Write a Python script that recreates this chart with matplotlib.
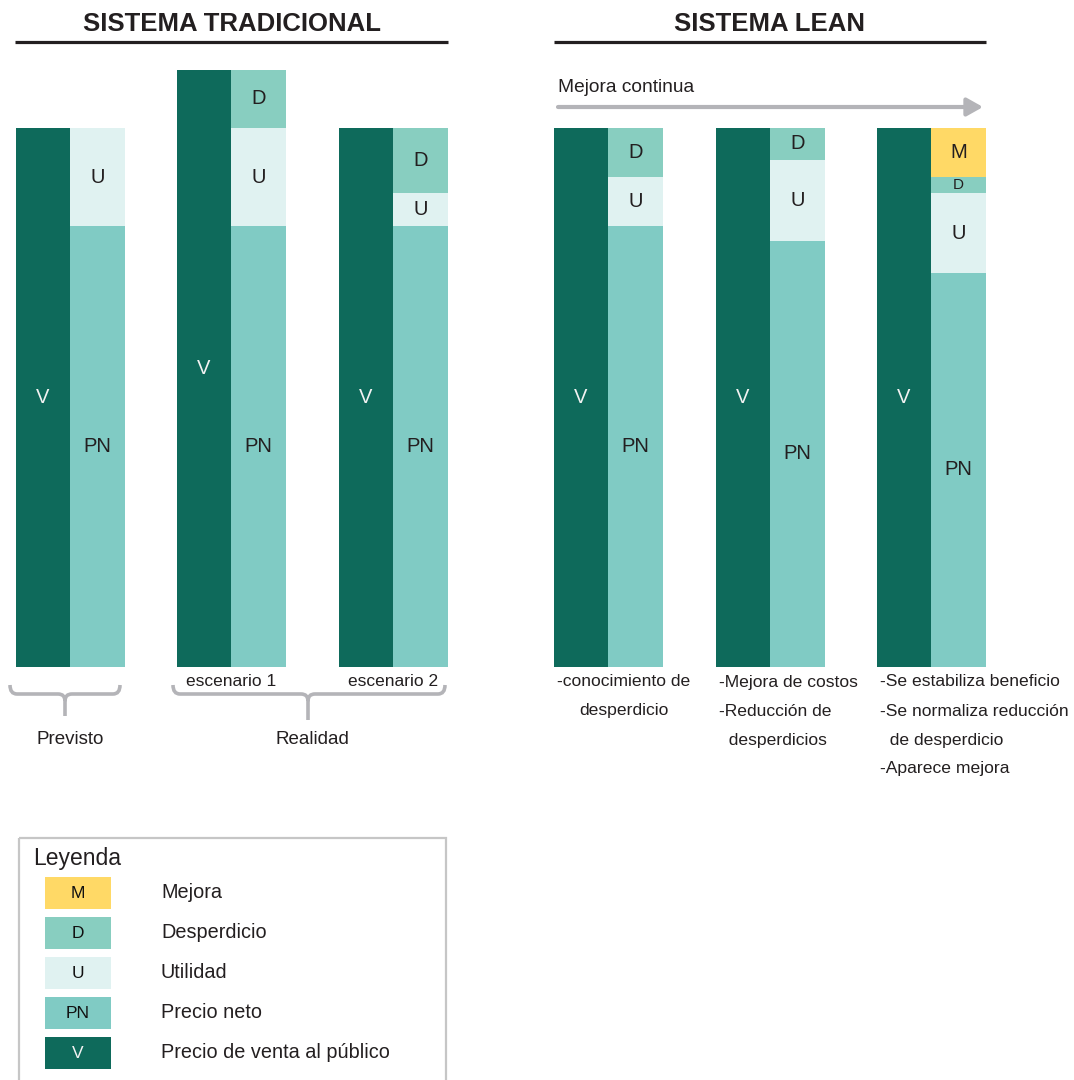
import matplotlib
matplotlib.use("Agg")
import matplotlib.pyplot as plt
from matplotlib.path import Path
from matplotlib.patches import PathPatch, Rectangle

# fuente angosta si existe, si no Liberation Sans
FAM = ["Liberation Sans Narrow", "Liberation Sans"]
REG = "Liberation Sans"

# datos (V = 100 unidades)
barras = ["Previsto", "escenario 1", "escenario 2", "lean 1", "lean 2", "lean 3"]
pn = [81.8, 81.8, 81.8, 81.8, 79.1, 73.1]
u = [18.2, 18.2, 6.1, 9.1, 15.0, 14.8]
d = [0, 10.8, 12.1, 9.1, 5.9, 3.0]
m = [0, 0, 0, 0, 0, 9.1]
v = [100, 110.8, 100, 100, 100, 100]

leyenda_cod = ["M", "D", "U", "PN", "V"]
leyenda_txt = ["Mejora", "Desperdicio", "Utilidad", "Precio neto", "Precio de venta al público"]

notas = [
    ["-conocimiento de", "desperdicio"],
    ["-Mejora de costos", "-Reducción de", "  desperdicios"],
    ["-Se estabiliza beneficio", "-Se normaliza reducción", "  de desperdicio", "-Aparece mejora"],
]

colores = {"V": "#0e6a5b", "PN": "#80cbc4", "D": "#88cec0", "U": "#e0f2f1", "M": "#ffd966"}
TXT = "#231f20"
GRIS = "#b4b4b8"

x_izq = [16, 177, 339, 554, 716, 877]
w_v, w_r = 54, 55

fig = plt.figure(figsize=(10.74, 10.8), dpi=100)

# capa de anotaciones en pixeles
ax = fig.add_axes([0, 0, 1, 1])
ax.set_xlim(0, 1074)
ax.set_ylim(1080, 0)
ax.axis("off")

# eje de barras: base en y=667 px, 1 unidad = 5.39 px
px_u = 5.39
alto = 120
bx = fig.add_axes([0, (1080 - 667) / 1080, 1, alto * px_u / 1080])
bx.set_xlim(0, 1074)
bx.set_ylim(0, alto)
bx.axis("off")

for i in range(len(barras)):
    bx.bar(x_izq[i], v[i], width=w_v, align="edge", color=colores["V"], linewidth=0)
    bx.text(x_izq[i] + w_v / 2, v[i] / 2, "V", ha="center", va="center",
            color="#f2f2f2", fontsize=14.5, family=FAM)
    xr = x_izq[i] + w_v
    base = 0
    for cod, vals in [("PN", pn), ("U", u), ("D", d), ("M", m)]:
        h = vals[i]
        if h <= 0:
            continue
        bx.bar(xr, h, width=w_r, bottom=base, align="edge", color=colores[cod], linewidth=0)
        fs = 14.5 if h > 5 else 11
        bx.text(xr + w_r / 2, base + h / 2, cod, ha="center", va="center",
                color=TXT, fontsize=fs, family=FAM)
        base += h

# titulos
ax.text(232, 24, "SISTEMA TRADICIONAL", ha="center", va="center", fontsize=18.5,
        fontweight="bold", family=FAM, color=TXT)
ax.plot([15, 448], [42, 42], color=TXT, lw=2.3, solid_capstyle="butt")
ax.text(770, 24, "SISTEMA LEAN", ha="center", va="center", fontsize=18.5,
        fontweight="bold", family=FAM, color=TXT)
ax.plot([554, 986], [42, 42], color=TXT, lw=2.3, solid_capstyle="butt")

# flecha mejora continua
ax.text(558, 87, "Mejora continua", ha="left", va="center", fontsize=13.8,
        family=FAM, color=TXT)
ax.annotate("", xy=(983, 107), xytext=(558, 107),
            arrowprops=dict(arrowstyle="-|>,head_length=0.8,head_width=0.45",
                            color=GRIS, lw=3, shrinkA=0, shrinkB=0, mutation_scale=12))

# escenarios
ax.text(231, 682, "escenario 1", ha="center", va="center", fontsize=12.5, family=FAM, color=TXT)
ax.text(393, 682, "escenario 2", ha="center", va="center", fontsize=12.5, family=FAM, color=TXT)


def llave(x0, x1, xc, ytop, ymid, ybot, r=7):
    verts = [(x0, ytop), (x0, ymid), (x0 + r, ymid), (xc - r, ymid), (xc, ymid), (xc, ymid + r),
             (xc, ybot),
             (x1, ytop), (x1, ymid), (x1 - r, ymid), (xc + r, ymid), (xc, ymid), (xc, ymid + r)]
    codes = [Path.MOVETO, Path.CURVE3, Path.CURVE3, Path.LINETO, Path.CURVE3, Path.CURVE3,
             Path.LINETO,
             Path.MOVETO, Path.CURVE3, Path.CURVE3, Path.LINETO, Path.CURVE3, Path.CURVE3]
    ax.add_patch(PathPatch(Path(verts, codes), fill=False, edgecolor=GRIS, lw=2.6))


llave(10, 120, 65, 685, 694, 716)
llave(173, 445, 308, 685, 694, 720)
ax.text(70, 739, "Previsto", ha="center", va="center", fontsize=13.5, family=FAM, color=TXT)
ax.text(312, 739, "Realidad", ha="center", va="center", fontsize=13.5, family=FAM, color=TXT)

# notas sistema lean
x_notas = [559, 719, 880]
for j, lineas in enumerate(notas):
    for k, t in enumerate(lineas):
        if j == 0:
            ax.text(624, 682 + 29 * k, t, ha="center", va="center", fontsize=12.6,
                    family=FAM, color=TXT)
        else:
            ax.text(x_notas[j], 682 + 29 * k, t, ha="left", va="center", fontsize=12.6,
                    family=FAM, color=TXT)

# leyenda
ax.add_patch(Rectangle((19, 838), 427, 260, fill=False, edgecolor="#c6c6c6", lw=1.6))
ax.text(33, 858, "Leyenda", ha="left", va="center", fontsize=16.5, family=REG, color=TXT)
for k, (cod, txt) in enumerate(zip(leyenda_cod, leyenda_txt)):
    y0 = 877 + 40 * k
    ax.add_patch(Rectangle((45, y0), 66, 32, facecolor=colores[cod], edgecolor="none"))
    ax.text(78, y0 + 16, cod, ha="center", va="center", fontsize=12.5, family=REG,
            color="#f2f2f2" if cod == "V" else "#111111")
    ax.text(161, y0 + 16, txt, ha="left", va="center", fontsize=14.3, family=REG, color=TXT)

fig.savefig("out.png", dpi=100)
